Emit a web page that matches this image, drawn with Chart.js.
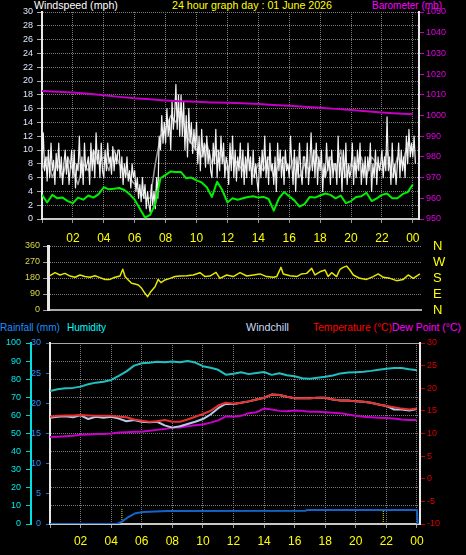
<!DOCTYPE html>
<html><head><meta charset="utf-8">
<script src="https://cdn.jsdelivr.net/npm/chart.js@4.4.0/dist/chart.umd.min.js"></script>
<style>
html,body{margin:0;padding:0;background:#000;width:466px;height:555px;overflow:hidden;position:relative;}
canvas{position:absolute;left:0;}
.t{position:absolute;font-family:"Liberation Sans",Arial,sans-serif;font-size:11px;white-space:nowrap;line-height:11px;}
</style></head><body>
<div class="t" data-w="84" style="left:34px;top:0px;color:#ffffff">Windspeed (mph)</div>
<div class="t" data-w="160" style="left:172px;top:0px;color:#ffff00">24 hour graph day : 01 June 2026</div>
<div class="t" data-w="70" style="left:372px;top:0px;color:#ff00ff">Barometer (mb)</div>
<div class="t" data-w="60" style="left:0px;top:322px;color:#1e8cff">Rainfall (mm)</div>
<div class="t" data-w="39" style="left:67px;top:322px;color:#00ffff">Humidity</div>
<div class="t" data-w="43" style="left:246px;top:322px;color:#c8dcf4">Windchill</div>
<div class="t" data-w="79" style="left:313px;top:322px;color:#ff0000">Temperature (°C)</div>
<div class="t" data-w="69" style="left:392px;top:322px;color:#ff00ff">Dew Point (°C)</div>
<canvas id="c1" width="466" height="250" style="top:0;width:466px;height:250px"></canvas>
<canvas id="c2" width="466" height="80" style="top:240px;width:466px;height:80px"></canvas>
<canvas id="c3" width="466" height="235" style="top:320px;width:466px;height:235px"></canvas>
<script>
// ---------- DATA ----------
// hour ticks shown on the time axes
const hourTicks = [2,4,6,8,10,12,14,16,18,20,22,24];
const hourLabels = ['02','04','06','08','10','12','14','16','18','20','22','00'];

// Barometer (mb), hourly 00..24
const barometer = [1011.8,1011.5,1011.1,1010.5,1009.8,1009.0,1008.3,1007.8,1007.3,1006.9,1006.6,1006.3,1006.1,1005.9,1005.5,1005.1,1004.7,1004.2,1003.8,1003.2,1002.7,1002.1,1001.5,1001.0,1000.6];

// Wind gust (mph), every 5 minutes
const windGust = [
 8,12.5,7,9,5.5,10,6,11,7,8.5,5,9.5,
 7,11,6,9,5,8,10,6.5,9,5,7.5,10,
 6,10,4.5,8,7,12,6,9,5,11,7,8,
 9,5,11,7,10,6,12.5,8,10,6,11,7,
 6,10,7,11,8,9,6.5,10.5,7,9.5,8,10,
 10,6,9,5,8,6,9,5.5,7,4.5,8,6,
 7,4,6,3,5,2.5,6,3,5,1.5,4,2,
 1,5,2,4,1.5,6,3,12,10,15,11,14,
 11,16,12,14.5,10,17,13,15,19.5,13,18,12,
 18,12,17,10,15,9,16,11,14,9.5,13,10,
 14,8,12,7,13,9,11,7.5,12,8,10,7,
 6,11,8,13,6,10,7,12,8,11,6,9,
 8,5,11,7,12,6,10,5.5,9,7,11,6,
 10,5,9,6,11,7,9,5,10,6,8,5.5,
 4,9,6,10,7,12,6,9,5,11,7,8,
 5,9,4,11,7,10,6,9,5,10,7,8,
 6,12,8,5,10,4,9,6,11,7,5,9,
 9,6,11,5,8,12.5,7,10,6,11,5,9,
 7,10,4,8,6,11,7,9,5,10,6,8,
 8,5,12,6,9,4,10,6,11,5,8,6,
 7,11,5,9,6,10,7,11,5,8,6,9,
 5,9,7,11,4,8,6,10,5,9,7,8,
 10,6,9,7,14.8,7,9,5,11,6,8,5,
 8,11,6,10,7,9,6,12,8,13,9,11,
 9,12,8];
// Wind speed (mph), every 20 minutes
const windSpeed = [
 7,9,6, 8,6,9, 7,5,8, 7,10,8, 9,7,10, 8,7,6, 5,4,3, 3,8,12,
 13,15,14, 16,12,11, 10,9,11, 8,10,9, 7,9,8, 7,9,6, 8,7,9, 6,8,9,
 7,9,6, 8,7,10, 8,6,9, 7,10,6, 8,7,9, 6,9,8, 7,10,6, 9,8,11, 10];
// Average wind (mph), every 20 minutes
const windAvg = [
 3.5,2.4,3.5, 3.0,3.1,2.6, 2.3,3.1,2.8, 3.4,3.1,3.6, 4.6,4.3,4.4, 4.5,4.2,3.6,
 2.8,1.5,0.2, 0.6,2.2,5.9, 6.4,6.9,6.8, 6.8,5.9,6.0, 5.6,5.3,4.6, 3.2,5.4,4.2,
 2.4,3.0,2.8, 3.0,3.2,3.3, 3.1,3.2,2.9, 1.2,3.0,3.9, 3.3,2.7,1.8, 2.2,3.2,3.1,
 3.4,3.7,3.5, 3.0,3.4,2.3, 2.6,3.2,3.3, 3.8,2.6,3.0, 3.5,3.7,3.0, 3.0,3.6,3.9, 5.0];

// Wind direction (degrees)
const dirHours = [0.13,0.46,0.78,1.11,1.44,1.77,2.09,2.42,2.75,3.07,3.40,3.73,4.05,4.38,4.71,4.89,5.04,5.25,5.47,5.69,5.91,6.13,6.34,6.52,6.72,7.0,7.21,7.39,7.65,7.98,8.31,8.63,9.07,9.5,9.94,10.27,10.59,10.99,11.25,11.69,12.12,12.56,13.0,13.43,13.87,14.3,14.74,14.96,15.24,15.39,15.83,16.27,16.59,16.92,17.25,17.46,17.79,18.12,18.33,18.55,18.88,19.1,19.31,19.53,19.75,19.97,20.4,20.84,21.27,21.6,21.93,22.37,22.8,23.24,23.56,23.89,24.33];
const dirValues = [193,210,197,206,191,184,197,188,184,193,182,172,172,184,191,229,188,169,150,146,141,122,94,75,103,131,172,154,169,178,188,191,193,197,210,188,191,212,178,197,188,210,191,197,203,188,184,188,240,203,193,188,203,206,234,197,215,225,188,210,188,229,240,247,225,197,178,172,188,203,184,178,165,172,197,178,203];

// Bottom panel, every 30 minutes 00:00..24:00
const humidity = [73.5,74.5,75,75.2,75.9,77.2,78.1,78.6,79.6,81.8,84.3,87.5,88.8,89.1,89.6,89.3,89.8,89.4,90,89.2,87.2,86.3,85.2,82.5,83,83.8,82.8,83.4,84,82.4,83.3,82.2,81.6,80.5,80.3,80.8,81.3,82,83.2,83.7,83.9,84.1,84.6,85.2,85.8,86.2,86.2,85.5,85];
const temperature = [13.7,13.9,14.0,14.0,14.1,14.0,13.9,13.9,13.9,13.7,13.6,13.1,12.8,12.6,12.7,13.0,12.6,12.6,13.1,13.7,14.3,15.0,16.2,16.8,16.6,16.8,17.1,17.5,17.9,18.6,18.5,18.1,17.8,17.8,17.8,17.9,17.9,17.5,17.3,17.3,17.1,17.0,16.8,16.4,16.1,15.8,15.5,15.3,15.5];
const windchill = [13.5,13.7,13.8,13.6,14.0,13.2,13.7,13.5,13.7,13.3,12.7,13.0,12.6,12.5,12.6,11.8,11.3,11.6,12.1,12.6,13.2,14.2,15.6,16.6,16.5,16.8,17.1,17.5,17.9,18.6,18.5,18.1,17.8,17.8,17.8,17.9,17.9,17.5,17.3,17.3,17.1,17.0,16.8,16.4,16.1,15.3,15.3,15.1,15.4];
const dewPoint = [9.2,9.3,9.4,9.5,9.7,9.8,9.9,9.9,10.0,10.2,10.3,10.4,10.4,10.6,10.8,11.0,11.3,11.3,11.6,11.8,12.0,12.4,12.9,13.8,13.7,13.9,14.5,14.7,15.5,15.3,15.0,14.9,15.1,15.0,14.8,14.8,14.7,14.6,14.5,14.2,13.9,13.7,13.6,13.5,13.4,13.3,13.1,13.0,13.0];
// Rainfall (mm), cumulative
const rainHours = [0,4.4,4.7,5.15,5.6,6.1,7.7,16.7,16.8,24.0,24.05];
const rainValues = [0,0,0.4,1.2,1.8,2.0,2.15,2.2,2.3,2.3,0];
// sunrise / sunset markers
const sunHours = [4.7,21.8];

// ---------- TITLE FIT ----------
document.querySelectorAll('.t').forEach(el => {
  const target = +el.dataset.w;
  const w = el.getBoundingClientRect().width;
  if (w > 0) el.style.fontSize = (11 * target / w).toFixed(2) + 'px';
});

// ---------- HELPERS ----------
Chart.defaults.font.family = '"Liberation Sans", Arial, sans-serif';
const fixW = w => s => { s.width = w; };
const fixWnp = w => s => { s.width = w; s.paddingTop = 0; s.paddingBottom = 0; };
const fixH = h => s => { s.height = h; };
const evenTicks = s => { s.ticks = [{value:0}].concat(hourTicks.map(v => ({value:v}))); };
const hourLabel = v => { const i = hourTicks.indexOf(v); return i < 0 ? '' : hourLabels[i]; };
const plain = v => String(v);
const pts = (arr, step) => arr.map((v,i) => ({x:i*step, y:v}));
const pairs = (xs, ys) => xs.map((x,i) => ({x:x, y:ys[i]}));
const GRID = '#7a7a7a';
const common = {
  responsive:false, animation:false, events:[],
  plugins:{legend:{display:false}, tooltip:{enabled:false}},
  elements:{point:{radius:0}, line:{tension:0, borderJoinStyle:'round'}}
};

// ---------- TOP: wind + barometer ----------
new Chart(document.getElementById('c1'), {
  type:'line',
  data:{datasets:[
    {data:pts(barometer,1), yAxisID:'yB', borderColor:'#c400c4', borderWidth:2, order:0},
    {data:pts(windAvg,1/3), yAxisID:'y', borderColor:'#00f000', borderWidth:2, order:1},
    {data:pts(windGust,1/12), yAxisID:'y', borderColor:'#f2f2f2', borderWidth:1.2, order:2},
    {data:pts(windSpeed,1/3), yAxisID:'y', borderColor:'#9c9c9c', borderWidth:1.5, order:3}
  ]},
  options:Object.assign({}, common, {
    layout:{padding:{top:12,left:0,right:0,bottom:0}},
    scales:{
      x:{type:'linear', min:0, max:24.4, afterFit:fixH(31), afterBuildTicks:evenTicks,
         ticks:{color:'#ffff00', font:{size:12}, padding:8, maxRotation:0, autoSkip:false, callback:hourLabel},
         grid:{color:GRID, tickLength:4, tickColor:'#999'},
         border:{color:'#c8c8c8', width:2, dash:[1,1]}},
      y:{position:'left', min:0, max:30, afterFit:fixW(42),
         ticks:{stepSize:2, autoSkip:false, color:'#dce6ff', font:{size:9}, padding:4, callback:plain},
         grid:{color:GRID, tickLength:5, tickColor:'#aaa'},
         border:{color:'#e8e8e8', width:2, dash:[1,1]}},
      yB:{position:'right', min:950, max:1050, afterFit:fixW(47),
         ticks:{stepSize:10, autoSkip:false, color:'#e000e0', font:{size:9}, padding:2, callback:plain},
         grid:{drawOnChartArea:false, tickLength:5, tickColor:'#c000c0'},
         border:{color:'#e8e8e8', width:2}}
    }
  })
});

// ---------- MIDDLE: wind direction ----------
const compass = {0:'N',90:'E',180:'S',270:'W',360:'N'};
new Chart(document.getElementById('c2'), {
  type:'line',
  data:{datasets:[
    {data:pairs(dirHours,dirValues), yAxisID:'y', borderColor:'#e6e600', borderWidth:1.5}
  ]},
  options:Object.assign({}, common, {
    layout:{padding:{top:6,left:0,right:0,bottom:0}},
    scales:{
      x:{type:'linear', min:0, max:24.4, afterFit:fixH(10),
         ticks:{display:false}, grid:{display:false},
         border:{color:'#a8a8a8', width:2}},
      y:{position:'left', min:0, max:360, afterFit:fixWnp(48),
         ticks:{stepSize:90, autoSkip:false, color:'#d8d840', font:{size:9}, padding:3, callback:plain},
         grid:{color:GRID, tickLength:5, tickColor:'#999'},
         border:{color:'#e8e8e8', width:3, dash:[1,1]}},
      yR:{position:'right', min:0, max:360, afterFit:fixWnp(45),
         ticks:{stepSize:90, autoSkip:false, color:'#ffff00', font:{size:13}, padding:12, callback:v => compass[v]},
         grid:{drawOnChartArea:false, drawTicks:false},
         border:{display:false}}
    }
  })
});

// ---------- BOTTOM: rain, humidity, temperatures ----------
const sunData = [];
sunHours.forEach(h => { sunData.push({x:h,y:0},{x:h,y:2.6},{x:h,y:null}); });
new Chart(document.getElementById('c3'), {
  type:'line',
  data:{datasets:[
    {data:pts(temperature,0.5), yAxisID:'temp', borderColor:'#e83030', borderWidth:2, order:0},
    {data:pts(windchill,0.5), yAxisID:'temp', borderColor:'#b4cce8', borderWidth:2, order:1},
    {data:pts(dewPoint,0.5), yAxisID:'temp', borderColor:'#c800c8', borderWidth:2, order:2},
    {data:pts(humidity,0.5), yAxisID:'hum', borderColor:'#20c0c0', borderWidth:2, order:3},
    {data:pairs(rainHours,rainValues), yAxisID:'rain', borderColor:'#1464c8', borderWidth:2, order:4},
    {data:sunData, yAxisID:'rain', borderColor:'#e0e000', borderWidth:1, borderDash:[1,1], spanGaps:false, order:5}
  ]},
  options:Object.assign({}, common, {
    layout:{padding:{top:23,left:0,right:0,bottom:0}},
    scales:{
      x:{type:'linear', min:0, max:24.2, afterFit:fixH(31), afterBuildTicks:evenTicks,
         ticks:{color:'#ffff00', font:{size:12}, padding:6, maxRotation:0, autoSkip:false, callback:hourLabel},
         grid:{color:GRID, tickLength:4, tickColor:'#999'},
         border:{color:'#c8c8c8', width:2, dash:[1,1]}},
      xTop:{type:'linear', position:'top', min:0, max:24.2, afterFit:fixH(0),
         ticks:{display:false}, grid:{display:false},
         border:{color:'#a8a8a8', width:1}},
      hum:{position:'left', weight:1, min:0, max:100, afterFit:fixW(31),
         ticks:{stepSize:10, autoSkip:false, color:'#00e8e8', font:{size:9}, padding:5, callback:plain},
         grid:{color:GRID, tickLength:5, tickColor:'#00d0d0'},
         border:{color:'#00e0e0', width:2, dash:[1,1]}},
      rain:{position:'left', weight:0, min:0, max:30, afterFit:fixW(19),
         ticks:{stepSize:5, autoSkip:false, color:'#2a8cff', font:{size:9}, padding:5, callback:plain},
         grid:{drawOnChartArea:false, tickLength:4, tickColor:'#2070d0'},
         border:{color:'#e8e8e8', width:2}},
      temp:{position:'right', min:-10, max:30, afterFit:fixW(46),
         ticks:{stepSize:5, autoSkip:false, color:'#e00000', font:{size:9}, padding:2, callback:plain},
         grid:{drawOnChartArea:false, tickLength:5, tickColor:'#c00000'},
         border:{color:'#e8e8e8', width:2}}
    }
  })
});
</script>
</body></html>
